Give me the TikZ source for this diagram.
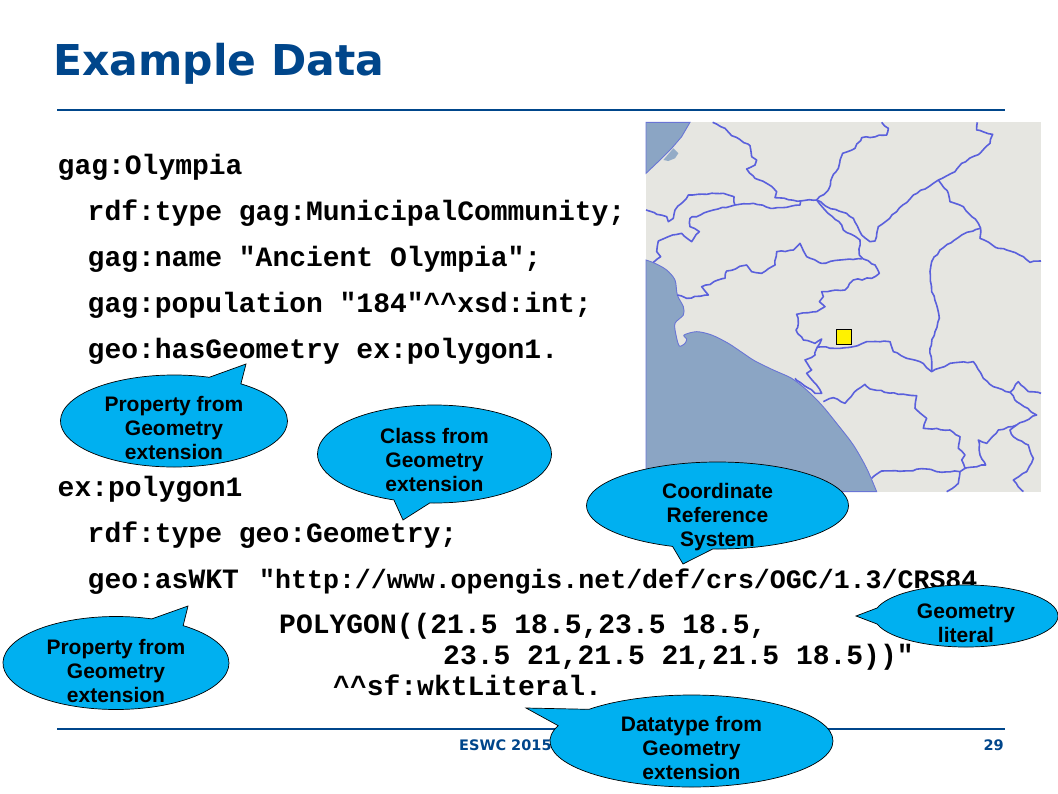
\documentclass[tikz,border=0pt]{standalone}
\usepackage{fontspec}
\setmainfont{Liberation Sans}
\newfontfamily\codefont{Liberation Mono}[BoldFont={Liberation Mono Bold}]
\newfontfamily\titlefont{DejaVu Sans}
\usetikzlibrary{shapes.callouts,decorations.pathmorphing}
\definecolor{navy}{HTML}{00468B}
\definecolor{land}{HTML}{E6E6E1}
\definecolor{sea}{HTML}{8BA5C4}
\definecolor{river}{HTML}{5A60DC}
\definecolor{bub}{HTML}{00B0F0}
\pgfmathsetseed{7}
\tikzset{
  codeline/.style={anchor=base west,inner sep=0pt,font=\codefont\bfseries\fontsize{28}{28}\selectfont,text=black},
  urlline/.style={anchor=base west,inner sep=0pt,font=\codefont\bfseries\fontsize{26.6}{28}\selectfont,text=black},
  bubble/.style={ellipse callout,draw=black,line width=0.7pt,fill=bub,inner sep=0pt,outer sep=0pt,callout pointer arc=18},
  bubbletext/.style={align=center,inner sep=0pt,text=black,font=\bfseries\fontsize{21}{24}\selectfont},
  rule/.style={navy,line width=2.6pt},
  riv/.style={river,line width=1.6pt,line join=round,decorate,decoration={random steps,segment length=4.5pt,amplitude=0.8pt}},
  seaarea/.style={fill=sea,draw=river!70!sea,line width=0.9pt}
}
\begin{document}
\begin{tikzpicture}[x=1pt,y=-1pt]
\useasboundingbox (0,0) rectangle (1058,793);
\fill[white] (0,0) rectangle (1058,793);
% title
\node[anchor=base west,inner sep=0pt,text=navy,font=\titlefont\bfseries\fontsize{42.5}{43}\selectfont] (title) at (53,75) {Example Data};
\coordinate (r1a) at (57,110); \coordinate (r1b) at (1005,110);
\draw[rule] (r1a) -- (r1b);
% map
\begin{scope}[shift={(640,115)},x=0.33333pt,y=-0.33333pt]
\fill[land] (18,22) rectangle (1203,1130);
\path[seaarea] (18,22) -- (150,22) -- (125,65) -- (95,100) -- (60,135) -- (18,175) -- cycle;
\fill[sea!90!land] (70,135) -- (100,100) -- (115,115) -- (105,130) -- (85,138) -- cycle;
\path[seaarea] (18,435) -- plot[smooth,tension=0.5] coordinates {(18,435) (45,445) (80,465) (105,495) (112,540) (130,575) (130,600) (105,625) (108,660) (118,693) (135,685) (140,672) (132,660) (170,650) (215,660) (265,685) (310,715) (345,738) (400,765) (455,790) (500,825) (545,870) (590,925) (640,990) (680,1060) (710,1130)} -- (18,1130) -- cycle;
\draw[riv] (218,22) -- (255,40) -- (275,62) -- (330,92) -- (335,125) -- (350,135) -- (345,150) -- (320,162) -- (345,190) -- (385,208) -- (410,230) -- (405,248) -- (480,258) -- (530,255) -- (565,225) -- (575,190) -- (595,160) -- (608,115) -- (645,100) -- (665,68) -- (740,60) -- (745,40) -- (725,22);
\draw[riv] (530,255) -- (560,275) -- (620,295) -- (640,310) -- (665,360) -- (690,380) -- (705,378) -- (715,335) -- (770,290) -- (820,240) -- (880,205) -- (895,195) -- (945,170) -- (965,145) -- (1020,115) -- (1050,85) -- (1058,58) -- (1010,45) -- (1012,22);
\draw[riv] (895,195) -- (925,235) -- (930,260) -- (970,275) -- (1015,325) -- (1022,340) -- (1020,370) -- (1075,400) -- (1100,405) -- (1150,425) -- (1170,442) -- (1203,438);
\draw[riv] (1022,340) -- (965,360) -- (900,405) -- (875,440) -- (870,470) -- (875,530) -- (890,570) -- (898,610) -- (885,650) -- (870,700) -- (875,770);
\draw[riv] (530,255) -- (555,285) -- (605,330) -- (610,345) -- (660,375) -- (658,420) -- (670,432) -- (705,450) -- (718,475) -- (695,490) -- (640,495) -- (615,525) -- (545,530) -- (550,545) -- (538,560) -- (555,575) -- (530,590) -- (470,598) -- (475,625) -- (468,645) -- (490,675) -- (525,685) -- (545,672) -- (530,700) -- (525,720) -- (495,735) -- (515,765) -- (500,775) -- (530,810) -- (545,835) -- (525,835) -- (465,790);
\draw[riv] (530,697) -- (600,700) -- (640,695) -- (680,680) -- (750,680) -- (760,710) -- (800,730) -- (840,740) -- (875,770) -- (930,745) -- (1000,740) -- (1030,790) -- (1060,815) -- (1110,832) -- (1135,800) -- (1165,830) -- (1203,835);
\draw[riv] (1110,832) -- (1130,860) -- (1190,900) -- (1130,930) -- (1075,945) -- (1040,985) -- (1015,975) -- (1020,1020) -- (1037,1050) -- (975,1060) -- (965,1035) -- (975,1020) -- (955,1000) -- (960,965) -- (930,945) -- (850,940) -- (860,910) -- (825,880) -- (830,842) -- (775,838) -- (690,822) -- (675,808) -- (650,825) -- (615,865) -- (580,848) -- (550,860);
\draw[riv] (695,1090) -- (725,1068) -- (790,1068) -- (860,1062) -- (890,1070) -- (960,1070) -- (975,1060);
\draw[riv] (960,1070) -- (955,1105) -- (920,1130);
\draw[riv] (1130,930) -- (1110,945) -- (1120,965) -- (1165,990) -- (1180,1030) -- (1160,1070) -- (1120,1095) -- (1150,1130);
\draw[riv] (18,285) -- (50,298) -- (80,305) -- (85,320) -- (100,310) -- (105,285) -- (130,260) -- (145,240) -- (200,238) -- (250,235) -- (282,245) -- (285,270) -- (340,265) -- (400,280) -- (480,270) -- (482,258);
\draw[riv] (285,270) -- (220,285) -- (150,310) -- (150,335) -- (178,350) -- (155,380) -- (125,355) -- (85,365) -- (55,378) -- (50,410) -- (62,425) -- (40,442);
\draw[riv] (112,540) -- (140,550) -- (205,540) -- (185,515) -- (255,490) -- (260,468) -- (320,450) -- (335,470) -- (365,475) -- (405,450) -- (410,410) -- (460,405) -- (480,385) -- (500,425) -- (545,445) -- (600,435) -- (665,432);
\draw[black,fill=yellow,line width=0.9pt] (590,643) rectangle (635,688);
\end{scope}
% code
\node[codeline] (c1) at (57.5,174) {gag:Olympia};
\node[codeline] (c2) at (87.5,220) {rdf:type gag:MunicipalCommunity;};
\node[codeline] (c3) at (87.5,266) {gag:name "Ancient Olympia";};
\node[codeline] (c4) at (87.5,312) {gag:population "184"\^{}\^{}xsd:int;};
\node[codeline] (c5) at (87.5,358) {geo:hasGeometry ex:polygon1.};
\node[codeline] (c6) at (57.5,496) {ex:polygon1};
\node[codeline] (c7) at (87.5,542) {rdf:type geo:Geometry;};
\node[codeline] (c8) at (87.5,588) {geo:asWKT};
\node[urlline] (c8b) at (259,588) {"http://www.opengis.net/def/crs/OGC/1.3/CRS84};
\node[codeline] (c9) at (279,633) {POLYGON((21.5 18.5,23.5 18.5,};
\node[codeline] (c10) at (443,664) {23.5 21,21.5 21,21.5 18.5))"};
\node[codeline] (c11) at (333,695.5) {\^{}\^{}sf:wktLiteral.};
% footer
\coordinate (r2a) at (57,729); \coordinate (r2b) at (1005,729);
\draw[navy,line width=2pt] (r2a) -- (r2b);
\node[anchor=base west,inner sep=0pt,text=navy,font=\titlefont\bfseries\fontsize{14.5}{14.5}\selectfont] (foot) at (459,750) {ESWC 2015};
\node[anchor=base east,inner sep=0pt,text=navy,font=\titlefont\bfseries\fontsize{14.5}{14.5}\selectfont] (page) at (1004,750) {29};
% callouts
\node[bubble,minimum width=227pt,minimum height=92pt,callout absolute pointer={(246,364)}] (b1) at (174,421) {};
\node[bubbletext] at ([yshift=-7pt]b1.center) {Property from\\Geometry\\extension};
\node[bubble,minimum width=234pt,minimum height=98pt,callout absolute pointer={(403,520)}] (b2) at (434.5,454) {};
\node[bubbletext] at ([yshift=-6pt]b2.center) {Class from\\Geometry\\extension};
\node[bubble,minimum width=262pt,minimum height=87pt,callout absolute pointer={(683,564)}] (b3) at (717.5,505.5) {};
\node[bubbletext] at ([yshift=-12pt]b3.center) {Coordinate\\Reference\\System};
\node[bubble,minimum width=184pt,minimum height=62pt,callout pointer arc=30,callout absolute pointer={(856,616)}] (b4) at (966,616) {};
\node[bubbletext] at ([yshift=-7pt]b4.center) {Geometry\\literal};
\node[bubble,minimum width=226pt,minimum height=93pt,callout absolute pointer={(188,606)}] (b5) at (116,663) {};
\node[bubbletext] at ([yshift=-8pt]b5.center) {Property from\\Geometry\\extension};
\node[bubble,minimum width=283pt,minimum height=92pt,callout pointer arc=24,callout absolute pointer={(526,708)}] (b6) at (691.5,741) {};
\node[bubbletext] at ([yshift=-7pt]b6.center) {Datatype from\\Geometry\\extension};
\end{tikzpicture}
\end{document}
